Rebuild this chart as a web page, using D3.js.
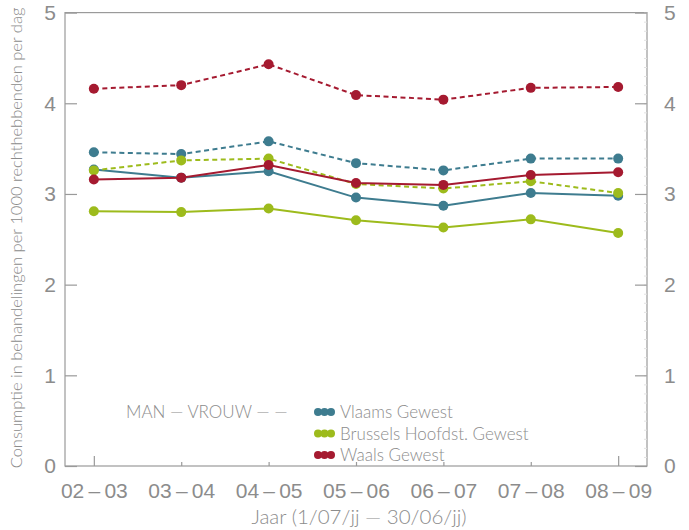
<!DOCTYPE html>
<html>
<head>
<meta charset="utf-8">
<script src="https://cdn.jsdelivr.net/npm/d3@7/dist/d3.min.js"></script>
<style>
  html, body { margin: 0; padding: 0; background: #fff; }
  svg { display: block; font-family: Lato, "Open Sans", "Liberation Sans", sans-serif; }
</style>
</head>
<body>
<svg id="chart" width="689" height="530"></svg>
<script>
// Consumption per 1000 beneficiaries per day, by region and sex
const years = ["02\u2009\u2013\u200903", "03\u2009\u2013\u200904", "04\u2009\u2013\u200905", "05\u2009\u2013\u200906",
               "06\u2009\u2013\u200907", "07\u2009\u2013\u200908", "08\u2009\u2013\u200909"];
const yTicks = [0, 1, 2, 3, 4, 5];

const vlaamsMan   = [3.27, 3.18, 3.25, 2.96, 2.87, 3.01, 2.98];
const vlaamsVrouw = [3.46, 3.44, 3.58, 3.34, 3.26, 3.39, 3.39];
const brusselMan   = [2.81, 2.80, 2.84, 2.71, 2.63, 2.72, 2.57];
const brusselVrouw = [3.26, 3.37, 3.39, 3.11, 3.06, 3.14, 3.01];
const waalsMan   = [3.16, 3.18, 3.32, 3.12, 3.10, 3.21, 3.24];
const waalsVrouw = [4.16, 4.20, 4.43, 4.09, 4.04, 4.17, 4.18];

const regionNames = ["Vlaams Gewest", "Brussels Hoofdst. Gewest", "Waals Gewest"];
const regionColors = ["#3e7c8f", "#9dbb1c", "#a51a30"];

const series = [
  { values: vlaamsVrouw,  color: regionColors[0], dashed: true },
  { values: vlaamsMan,    color: regionColors[0], dashed: false },
  { values: brusselVrouw, color: regionColors[1], dashed: true },
  { values: brusselMan,   color: regionColors[1], dashed: false },
  { values: waalsVrouw,   color: regionColors[2], dashed: true },
  { values: waalsMan,     color: regionColors[2], dashed: false }
];

const svg = d3.select("#chart");
const plotLeft = 65, plotRight = 647, plotTop = 12.6, plotBottom = 466;
const axisColor = "#9a9a9a";
const textColor = "#8c8c8c";

const x = d3.scalePoint().domain(years).range([plotLeft, plotRight]).padding(0.33);
const y = d3.scaleLinear().domain([0, 5]).range([plotBottom, plotTop]);

// frame
svg.append("rect")
  .attr("x", plotLeft).attr("y", y(5))
  .attr("width", plotRight - plotLeft).attr("height", plotBottom - y(5))
  .attr("fill", "none").attr("stroke", axisColor).attr("stroke-width", 1.2);

// left axis: ticks point inward
const leftAxis = svg.append("g").attr("transform", `translate(${plotLeft},0)`)
  .call(d3.axisLeft(y).tickValues(yTicks).tickSize(-12).tickPadding(9).tickFormat(d3.format("d")));
// right axis with fine minor ticks
const rightMinor = svg.append("g").attr("transform", `translate(${plotRight},0)`)
  .call(d3.axisRight(y).ticks(50).tickSize(-3).tickFormat(""));
rightMinor.selectAll("line").attr("stroke", "#e2e2e2");
rightMinor.select(".domain").remove();
const rightAxis = svg.append("g").attr("transform", `translate(${plotRight},0)`)
  .call(d3.axisRight(y).tickValues(yTicks).tickSize(-12).tickPadding(17).tickFormat(d3.format("d")));

[leftAxis, rightAxis].forEach(g => {
  g.select(".domain").remove();
  g.selectAll("line").attr("stroke", axisColor).attr("stroke-width", 1.2);
  g.selectAll("text").attr("fill", textColor).attr("font-size", 21).attr("font-weight", 300);
});

// bottom axis: category ticks rising from the baseline
const xAxis = svg.append("g").attr("transform", `translate(0,${plotBottom})`)
  .call(d3.axisBottom(x).tickSize(0).tickPadding(17));
xAxis.select(".domain").remove();
xAxis.selectAll(".tick line").remove();
xAxis.selectAll(".tick").append("line")
  .attr("y1", 0)
  .attr("y2", (d, i) => (i === 0 || i === years.length - 1) ? -10 : -4)
  .attr("stroke", axisColor).attr("stroke-width", 1.2);
xAxis.selectAll("text").attr("fill", textColor).attr("font-size", 21).attr("font-weight", 300);

// axis titles
svg.append("text")
  .attr("transform", "translate(22,238) rotate(-90)")
  .attr("text-anchor", "middle")
  .attr("fill", textColor).attr("font-size", 16.5).attr("font-weight", 300)
  .text("Consumptie in behandelingen per 1000 rechthebbenden per dag");

svg.append("text")
  .attr("x", 359).attr("y", 524)
  .attr("text-anchor", "middle")
  .attr("fill", textColor).attr("font-size", 20.5).attr("font-weight", 300)
  .text("Jaar (1/07/jj \u2014 30/06/jj)");

// lines and points
const line = d3.line().x((d, i) => x(years[i])).y(d => y(d));
const plot = svg.append("g");
series.forEach(s => {
  plot.append("path")
    .attr("d", line(s.values))
    .attr("fill", "none")
    .attr("stroke", s.color)
    .attr("stroke-width", 2)
    .attr("stroke-dasharray", s.dashed ? "5,3.5" : null);
  plot.selectAll(null).data(s.values).enter().append("circle")
    .attr("cx", (d, i) => x(years[i]))
    .attr("cy", d => y(d))
    .attr("r", 5)
    .attr("fill", s.color);
});

// legend
const legend = svg.append("g");
legend.append("text")
  .attr("x", 126).attr("y", 418)
  .attr("fill", textColor).attr("font-size", 17).attr("font-weight", 300)
  .text("MAN \u2014 VROUW \u2014 \u2014");
regionNames.forEach((name, i) => {
  const gy = 418 + i * 21.5;
  [0, 1, 2].forEach(k => {
    legend.append("circle")
      .attr("cx", 318 + k * 6.5).attr("cy", gy - 6)
      .attr("r", 4).attr("fill", regionColors[i]);
  });
  legend.append("text")
    .attr("x", 340).attr("y", gy)
    .attr("fill", textColor).attr("font-size", 17).attr("font-weight", 300)
    .text(name);
});
</script>
</body>
</html>
